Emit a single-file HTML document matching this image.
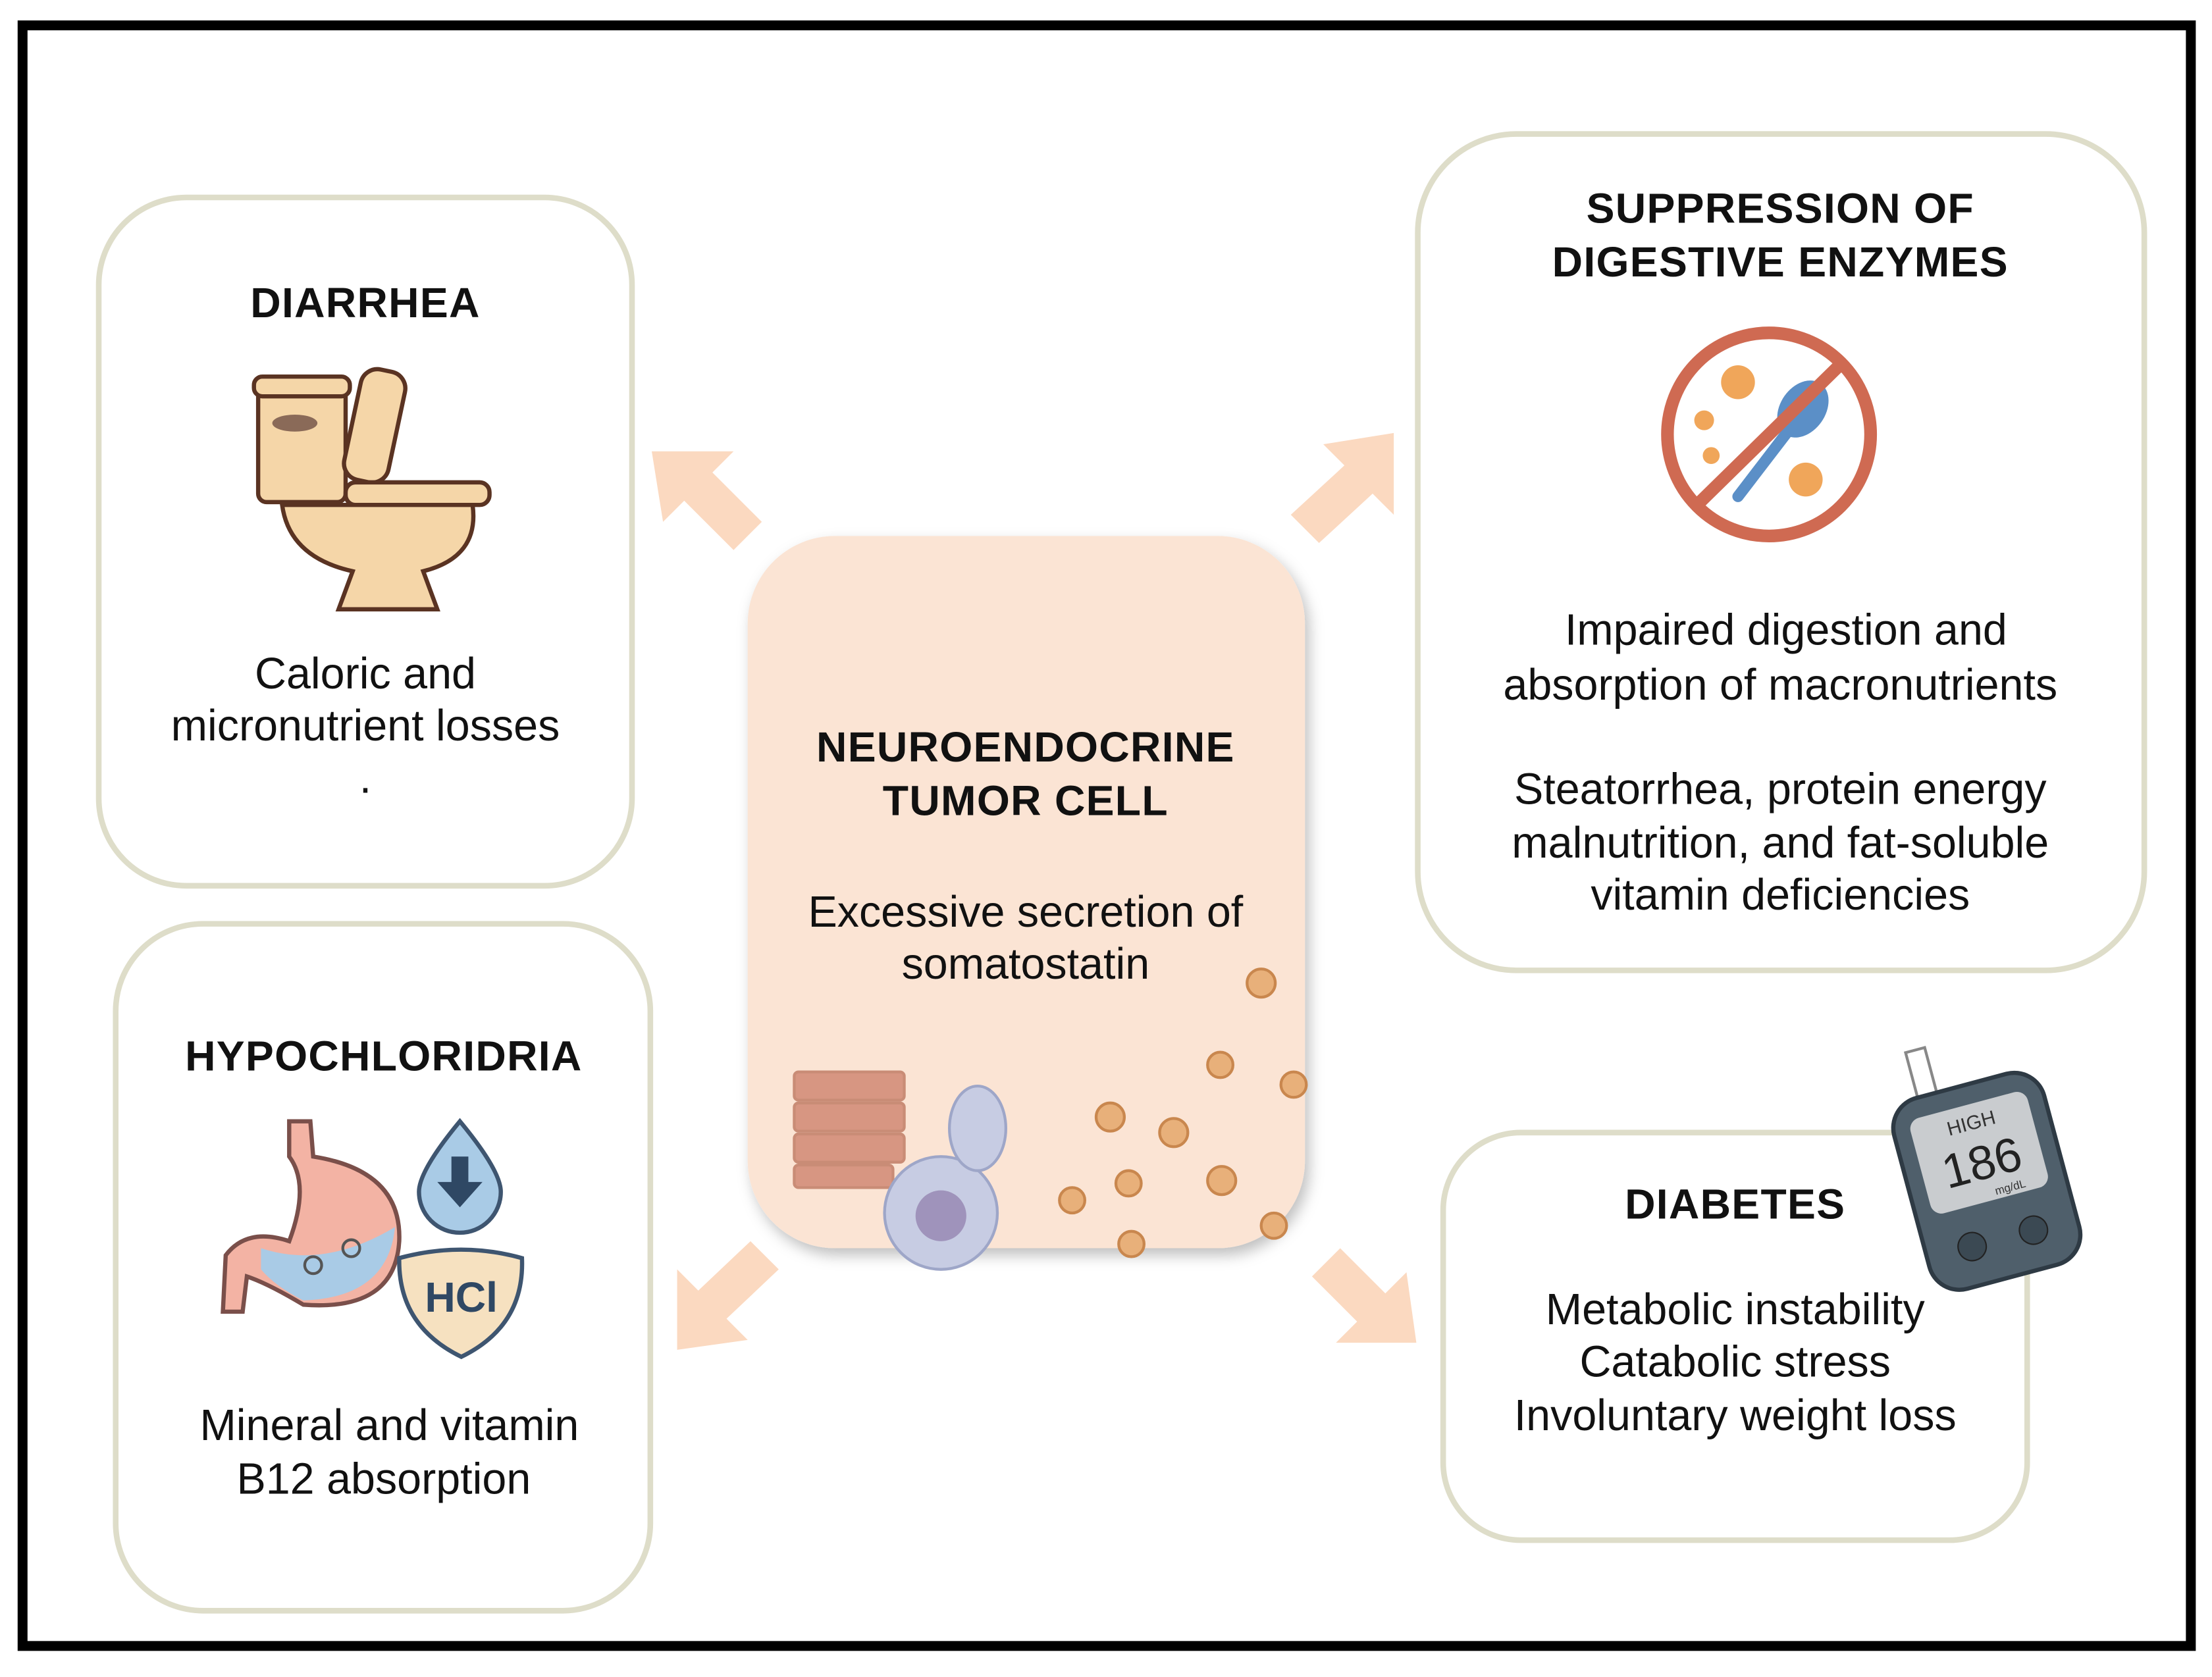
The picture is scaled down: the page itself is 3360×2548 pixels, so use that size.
<!DOCTYPE html>
<html><head><style>
html,body{margin:0;padding:0;background:#fff;}
svg{display:block;}
text{font-family:"Liberation Sans",Arial,sans-serif;}
.t{font-weight:bold;font-size:30px;fill:#111;text-anchor:middle;letter-spacing:0.6px;}
.b{font-size:31px;fill:#111;text-anchor:middle;}
.box{fill:#fff;stroke:#deddc9;stroke-width:4;}
.ar{fill:#fbd9c0;}
</style></head><body>
<svg width="3360" height="2548" viewBox="0 0 1568 1189" preserveAspectRatio="none">
<defs>
<filter id="sh" x="-10%" y="-10%" width="125%" height="125%"><feDropShadow dx="3" dy="5" stdDeviation="5" flood-color="#000" flood-opacity="0.25"/></filter>
</defs>
<rect x="0" y="0" width="1568" height="1189" fill="#fff"/>
<rect x="16" y="18" width="1537" height="1149" fill="none" stroke="#000" stroke-width="7"/>

<rect class="box" x="70" y="140" width="378" height="488" rx="62"/>
<rect class="box" x="82" y="655" width="379" height="487" rx="62"/>
<rect class="box" x="1005" y="95" width="515" height="593" rx="70"/>
<rect class="box" x="1023" y="803" width="414" height="289" rx="55"/>

<g class="ar">
<polygon points="462,320 520,320 505,335 540,370 520,390 485,355 470,370"/>
<polygon points="988,307 988,365 973,350 935,385 915,365 953,330 938,315"/>
<polygon points="480,957 480,900 495,915 532,880 552,900 515,935 530,950"/>
<polygon points="1004,952 947,952 962,937 930,905 950,885 982,917 997,902"/>
</g>

<rect x="530" y="380" width="395" height="505" rx="62" fill="#fbe4d4" filter="url(#sh)"/>
<text class="t" x="727" y="540">NEUROENDOCRINE</text>
<text class="t" x="727" y="578">TUMOR CELL</text>
<text class="b" x="727" y="657">Excessive secretion of</text>
<text class="b" x="727" y="694">somatostatin</text>
<g stroke="#c98c76" stroke-width="2" fill="#d79682">
<rect x="563" y="760" width="78" height="20" rx="3"/>
<rect x="563" y="782" width="78" height="20" rx="3"/>
<rect x="563" y="804" width="78" height="20" rx="3"/>
<rect x="563" y="826" width="70" height="16" rx="3"/>
</g>
<g fill="#c7cce3" stroke="#9ea6c8" stroke-width="2">
<circle cx="667" cy="860" r="40"/>
<ellipse cx="693" cy="800" rx="20" ry="30"/>
</g>
<circle cx="667" cy="862" r="18" fill="#9f93bb"/>
<g fill="#e8b07a" stroke="#c9874e" stroke-width="2">
<circle cx="894" cy="697" r="10"/><circle cx="865" cy="755" r="9"/><circle cx="917" cy="769" r="9"/>
<circle cx="787" cy="792" r="10"/><circle cx="832" cy="803" r="10"/><circle cx="800" cy="839" r="9"/>
<circle cx="866" cy="837" r="10"/><circle cx="760" cy="851" r="9"/><circle cx="802" cy="882" r="9"/>
<circle cx="903" cy="869" r="9"/>
</g>

<text class="t" x="259" y="225">DIARRHEA</text>
<g stroke="#5a3322" stroke-width="3" fill="#f5d6a8">
<rect x="183" y="270" width="62" height="86" rx="6"/>
<rect x="180" y="267" width="68" height="14" rx="6"/>
<rect x="250" y="262" width="32" height="80" rx="12" transform="rotate(12 266 300)"/>
<rect x="245" y="342" width="102" height="16" rx="7"/>
<path d="M200,358 L335,358 Q340,395 300,405 L310,432 L240,432 L250,405 Q205,395 200,358Z"/>
</g>
<ellipse cx="209" cy="300" rx="16" ry="6" fill="#8a6a58"/>
<text class="b" x="259" y="488">Caloric and</text>
<text class="b" x="259" y="525">micronutrient losses</text>
<text class="b" x="259" y="562">.</text>

<text class="t" x="272" y="759">HYPOCHLORIDRIA</text>
<path d="M205,795 L220,795 L222,820 Q285,830 283,880 Q280,930 215,925 Q190,910 175,905 L172,930 L158,930 L160,890 Q175,870 205,880 Q220,840 205,820Z" fill="#f3b3a4" stroke="#7a4f4a" stroke-width="3"/>
<path d="M185,885 Q230,900 280,870 Q275,920 215,922 Q195,912 185,900Z" fill="#a9cbe6"/>
<circle cx="222" cy="897" r="6" fill="none" stroke="#555" stroke-width="2"/>
<circle cx="249" cy="885" r="6" fill="none" stroke="#555" stroke-width="2"/>
<path d="M326,795 Q355,830 355,845 A29,29 0 0 1 297,845 Q297,830 326,795Z" fill="#a9cbe6" stroke="#3e5570" stroke-width="3"/>
<path d="M320,820 L332,820 L332,838 L342,838 L326,856 L310,838 L320,838Z" fill="#2f4864"/>
<path d="M283,892 Q327,880 370,892 Q372,940 327,962 Q282,940 283,892Z" fill="#f6e1c0" stroke="#3e5570" stroke-width="3"/>
<text x="327" y="930" font-size="30" font-weight="bold" fill="#2f4864" text-anchor="middle">HCl</text>
<text class="b" x="276" y="1021">Mineral and vitamin</text>
<text class="b" x="272" y="1059">B12 absorption</text>

<text class="t" x="1262" y="158">SUPPRESSION OF</text>
<text class="t" x="1262" y="196">DIGESTIVE ENZYMES</text>
<circle cx="1254" cy="308" r="72" fill="none" stroke="#cf6a52" stroke-width="9"/>
<circle cx="1232" cy="271" r="12" fill="#f0a65a"/><circle cx="1208" cy="298" r="7" fill="#f0a65a"/>
<circle cx="1213" cy="323" r="6" fill="#f0a65a"/><circle cx="1280" cy="340" r="12" fill="#f0a65a"/>
<ellipse cx="1278" cy="290" rx="16" ry="22" fill="#5b8fc7" transform="rotate(35 1278 290)"/>
<line x1="1268" y1="305" x2="1232" y2="352" stroke="#5b8fc7" stroke-width="8" stroke-linecap="round"/>
<line x1="1203" y1="358" x2="1305" y2="258" stroke="#cf6a52" stroke-width="9"/>
<text class="b" x="1266" y="457">Impaired digestion and</text>
<text class="b" x="1262" y="496">absorption of macronutrients</text>
<text class="b" x="1262" y="570">Steatorrhea, protein energy</text>
<text class="b" x="1262" y="608">malnutrition, and fat-soluble</text>
<text class="b" x="1262" y="645">vitamin deficiencies</text>

<text class="t" x="1230" y="864">DIABETES</text>
<g transform="rotate(-15 1405 825)">
<rect x="1373" y="735" width="14" height="40" fill="#fff" stroke="#888" stroke-width="2"/>
<rect x="1350" y="768" width="110" height="140" rx="22" fill="#4f5f6b" stroke="#2e3a44" stroke-width="3"/>
<rect x="1362" y="782" width="86" height="70" rx="8" fill="#c9cccf"/>
<text x="1405" y="800" font-size="14" fill="#333" text-anchor="middle">HIGH</text>
<text x="1405" y="836" font-size="34" fill="#222" text-anchor="middle">186</text>
<text x="1420" y="849" font-size="8" fill="#333" text-anchor="middle">mg/dL</text>
<circle cx="1383" cy="880" r="10" fill="#3b4953" stroke="#222"/>
<circle cx="1428" cy="880" r="10" fill="#3b4953" stroke="#222"/>
</g>
<text class="b" x="1230" y="939">Metabolic instability</text>
<text class="b" x="1230" y="976">Catabolic stress</text>
<text class="b" x="1230" y="1014">Involuntary weight loss</text>
</svg>
</body></html>
